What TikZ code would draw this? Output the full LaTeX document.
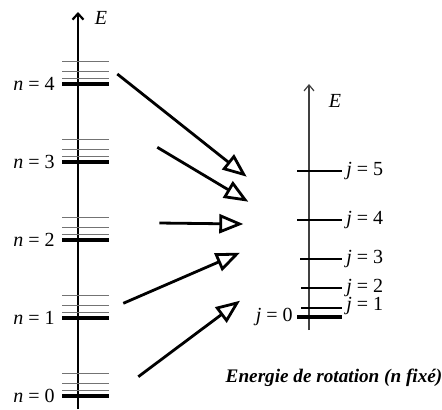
\documentclass[tikz,border=0pt]{standalone}
\usepackage{fontspec}
\setmainfont{Liberation Serif}
\usetikzlibrary{arrows.meta}

\begin{document}
\begin{tikzpicture}[
    x=0.5pt, y=-0.5pt,
    axisL/.style={line width=1.1pt, -{Straight Barb[length=3pt, width=5.5pt]}},
    axisR/.style={line width=0.6pt, black!75, -{Straight Barb[length=3pt, width=5pt]}},
    vib/.style={line width=2pt},
    rot/.style={line width=0.6pt, black!55},
    rotR/.style={line width=1pt},
    lab/.style={font=\fontsize{10}{12}\selectfont, inner sep=1pt},
    capt/.style={font=\fontsize{9.6}{12}\selectfont\bfseries\itshape},
    jump/.style={line width=1.4pt, -{Triangle[open, length=12pt, width=9.5pt, line width=1.4pt]}}
  ]
    \useasboundingbox (0,0) rectangle (442,409);

    % vibration levels n = 0..4, each with its rotation levels
    \draw[axisL] (78,409) -- (78,12);
    \node[lab] (EL) at (101,18) {\textit{E}};
    \foreach \n in {0,...,4}{
      \pgfmathsetmacro{\yy}{395.7-78*\n}
      \draw[vib] (62,\yy) -- (109,\yy);
      \draw[rot] (62,\yy-5) -- (109,\yy-5);
      \draw[rot] (62,\yy-12) -- (109,\yy-12);
      \draw[rot] (62,\yy-22.5) -- (109,\yy-22.5);
      \node[lab, anchor=east] (n\n) at (57,\yy) {\textit{n} = \n};
    }

    % rotation ladder
    \draw[axisR] (309,330) -- (309,84);
    \node[lab] (ER) at (335,101) {\textit{E}};
    \draw[rotR, line width=2pt] (297,317.3) -- (342,317.3);
    \draw[rotR] (301,307.7) -- (342,307.7);
    \draw[rotR] (301,288.3) -- (342,288.3);
    \draw[rotR] (300,259) -- (342,259);
    \draw[rotR] (297,220) -- (342,220);
    \draw[rotR] (297,170.7) -- (342,170.7);
    \node[lab, anchor=east] (j0) at (295,317.3) {\textit{j} = 0};
    \node[lab, anchor=west] (j1) at (344,306) {\textit{j} = 1};
    \node[lab, anchor=west] (j2) at (344,288.3) {\textit{j} = 2};
    \node[lab, anchor=west] (j3) at (344,259) {\textit{j} = 3};
    \node[lab, anchor=west] (j4) at (344,220) {\textit{j} = 4};
    \node[lab, anchor=west] (j5) at (344,170.7) {\textit{j} = 5};
    \node[capt] (rotcap) at (334,378) {Energie de rotation (n fixé)};

    % arrows towards the ladder
    \coordinate (s4) at (117.3,74);    \coordinate (t4) at (246.7,176.7);
    \coordinate (s3) at (157.3,147.3); \coordinate (t3) at (248.3,201.7);
    \coordinate (s2) at (159.3,223);   \coordinate (t2) at (243.3,224);
    \coordinate (s1) at (123.3,303.3); \coordinate (t1) at (240,252.7);
    \coordinate (s0) at (138.3,376.7); \coordinate (t0) at (240,300.7);
    \draw[jump] (s4) -- (t4);
    \draw[jump] (s3) -- (t3);
    \draw[jump] (s2) -- (t2);
    \draw[jump] (s1) -- (t1);
    \draw[jump] (s0) -- (t0);
  \end{tikzpicture}
\end{document}
